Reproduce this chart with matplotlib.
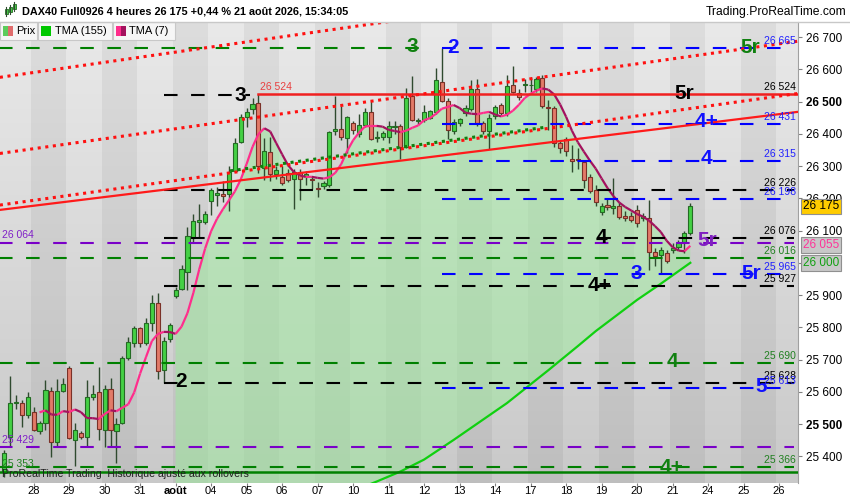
import numpy as np
import pandas as pd
import matplotlib
matplotlib.use("Agg")
import matplotlib.pyplot as plt
import matplotlib.transforms as mtransforms
from matplotlib.collections import LineCollection
from matplotlib.colors import LinearSegmentedColormap
from matplotlib.patches import Rectangle
from matplotlib.lines import Line2D

plt.rcParams['font.family'] = ['Liberation Sans', 'DejaVu Sans']

W, H = 850, 500

### 4h bars, 27 jul -> 21 aug (6 bars per day)
opens = [25352, 25460, 25565, 25565, 25527, 25538, 25479, 25503, 25603, 25444,
         25603, 25674, 25451, 25473, 25460, 25585, 25599, 25482, 25609, 25479,
         25503, 25705, 25751, 25798, 25751, 25813, 25875, 25668, 25764, 25898,
         25918, 25973, 26078, 26128, 26127, 26193, 26211, 26212, 26213, 26284,
         26374, 26452, 26477, 26494, 26295, 26342, 26274, 26267, 26277, 26259,
         26283, 26270, 26261, 26232, 26238, 26241, 26410, 26415, 26386, 26432,
         26399, 26427, 26468, 26387, 26389, 26389, 26421, 26424, 26360, 26517,
         26440, 26443, 26448, 26468, 26560, 26503, 26410, 26434, 26463, 26476,
         26538, 26432, 26410, 26455, 26489, 26463, 26551, 26527, 26552, 26550,
         26538, 26572, 26482, 26479, 26370, 26383, 26322, 26320, 26313, 26265,
         26226, 26158, 26179, 26170, 26176, 26145, 26145, 26164, 26140, 26138,
         26034, 26024, 26031, 26040, 26050, 26065, 26091]
highs = [25420, 25649, 25590, 25575, 25600, 25553, 25510, 25637, 25615, 25640,
         25643, 25680, 25504, 25480, 25637, 25620, 25678, 25621, 25643, 25520,
         25710, 25771, 25805, 25800, 25830, 25900, 25905, 25770, 25812, 25925,
         25993, 26112, 26150, 26182, 26160, 26232, 26236, 26255, 26300, 26387,
         26460, 26480, 26510, 26524, 26387, 26390, 26300, 26300, 26290, 26290,
         26290, 26285, 26270, 26250, 26255, 26410, 26517, 26486, 26455, 26440,
         26460, 26480, 26505, 26410, 26410, 26440, 26440, 26430, 26541, 26579,
         26448, 26490, 26475, 26603, 26665, 26510, 26445, 26450, 26490, 26567,
         26570, 26440, 26460, 26490, 26495, 26582, 26610, 26540, 26570, 26575,
         26575, 26582, 26505, 26485, 26378, 26390, 26365, 26355, 26320, 26275,
         26240, 26185, 26200, 26262, 26190, 26160, 26158, 26178, 26155, 26195,
         26045, 26048, 26040, 26060, 26070, 26100, 26184]
lows = [25335, 25430, 25548, 25492, 25520, 25479, 25470, 25482, 25398, 25430,
        25600, 25455, 25370, 25455, 25430, 25575, 25451, 25430, 25430, 25379,
        25500, 25700, 25740, 25740, 25745, 25790, 25640, 25628, 25755, 25890,
        25915, 25916, 26060, 26077, 26120, 26148, 26176, 26190, 26162, 26280,
        26370, 26420, 26460, 26278, 26257, 26255, 26260, 26240, 26250, 26167,
        26195, 26240, 26230, 26205, 26230, 26236, 26395, 26380, 26340, 26400,
        26390, 26420, 26380, 26375, 26380, 26370, 26400, 26322, 26355, 26440,
        26430, 26435, 26445, 26460, 26500, 26383, 26400, 26425, 26455, 26470,
        26425, 26400, 26352, 26445, 26455, 26455, 26525, 26505, 26530, 26530,
        26530, 26480, 26412, 26360, 26340, 26330, 26282, 26290, 26231, 26215,
        26175, 26148, 26165, 26150, 26135, 26130, 26125, 26110, 26130, 25978,
        25990, 25967, 26000, 26030, 26040, 26029, 26085]
closes = [25411, 25565, 25570, 25527, 25585, 25482, 25503, 25606, 25444, 25603,
          25624, 25457, 25482, 25460, 25585, 25593, 25485, 25609, 25482, 25500,
          25705, 25755, 25798, 25751, 25813, 25876, 25666, 25759, 25807, 25916,
          25980, 26083, 26130, 26132, 26151, 26226, 26215, 26208, 26283, 26372,
          26452, 26467, 26492, 26300, 26347, 26274, 26288, 26246, 26257, 26283,
          26259, 26274, 26258, 26230, 26247, 26405, 26414, 26389, 26451, 26412,
          26426, 26468, 26383, 26389, 26401, 26424, 26423, 26358, 26512, 26443,
          26442, 26468, 26470, 26567, 26503, 26412, 26437, 26446, 26481, 26538,
          26432, 26409, 26448, 26482, 26465, 26548, 26530, 26515, 26554, 26552,
          26569, 26486, 26481, 26372, 26355, 26347, 26316, 26318, 26257, 26223,
          26190, 26176, 26172, 26175, 26143, 26138, 26133, 26122, 26145, 26034,
          26021, 26040, 26006, 26047, 26060, 26091, 26175]

day_labels = ['28', '29', '30', '31', 'août', '04', '05', '06', '07', '10', '11',
              '12', '13', '14', '17', '18', '19', '20', '21', '24', '25', '26']

# TMA(155) (bar index, value)
tma155_bar = [29, 45, 63, 67, 71, 76, 85, 92, 97, 100, 107, 111, 116]
tma155_val = [25080, 25190, 25322, 25353, 25390, 25451, 25565, 25667, 25742,
              25788, 25885, 25935, 26000]

# drawn trend lines: (start bar, end bar) and prices
trend_bars = [-0.7, 134.2]
red_top = [26575, 26930]
red_mid = [26339, 26687]
red_low = [26179, 26525]
red_solid = [26164, 26468]
green_dot_bars = [38.2, 91.8]
green_dot = [26285, 26421]

# horizontal levels: value, colour, style, first bar, last bar
levels = [
    (26665, '#008000', 'dash', -1, 72), (26665, '#0000ff', 'dash', 74, 133.6),
    (26520, 'black', 'dash', 27, 41.5), (26524, '#f02020', 'solid', 43, 134.3),
    (26431, '#0000ff', 'dash', 74, 133.6), (26315, '#0000ff', 'dash', 74, 133.6),
    (26226, 'black', 'dash', 27, 133.6), (26198, '#0000ff', 'dash', 74, 133.6),
    (26076, 'black', 'dash', 27, 133.6), (26062, '#7a00c8', 'dash', -1, 133.6),
    (26016, '#008000', 'dash', -1, 133.6), (25965, '#0000ff', 'dash', 74, 133.6),
    (25927, 'black', 'dash', 27, 133.6), (25690, '#008000', 'dash', -1, 133.6),
    (25628, 'black', 'dash', 27, 133.6), (25613, '#0000ff', 'dash', 74, 133.6),
    (25429, '#7a00c8', 'dash', -1, 133.6), (25366, '#008000', 'dash', -1, 133.6),
    (25353, '#008000', 'solid', -1, 134.3),
]

# big wave labels: text, bar, price, colour
wave_labels = [
    ('3', 69.0, 26672, '#108010'), ('2', 75.9, 26669, '#1010ff'),
    ('5r', 126.1, 26669, '#108010'), ('3', 39.9, 26520, 'black'),
    ('5r', 114.9, 26526, 'black'), ('4+', 118.8, 26439, '#1010ff'),
    ('4', 118.8, 26324, '#1010ff'), ('4', 100.9, 26078, 'black'),
    ('5r', 118.8, 26069, '#8020c0'), ('3', 106.8, 25966, '#1010ff'),
    ('5r', 126.3, 25966, '#1010ff'), ('4+', 100.7, 25929, 'black'),
    ('4', 112.9, 25695, '#108010'), ('5', 128.0, 25618, '#1010ff'),
    ('4+', 112.9, 25366, '#108010'), ('2', 29.9, 25633, 'black'),
]

# small price tags on the right edge of the plot
right_tags = [(26665, '#2020ff'), (26524, 'black'), (26431, '#2020ff'),
              (26315, '#2020ff'), (26226, 'black'), (26198, '#2020ff'),
              (26076, 'black'), (26016, '#208020'), (25965, '#2020ff'),
              (25927, 'black'), (25690, '#208020'), (25628, 'black'),
              (25613, '#2020ff'), (25366, '#208020')]
left_tags = [(26064, '#8020c8'), (25429, '#8020c8'), (25353, '#208020')]

o = np.array(opens); hi = np.array(highs); lo = np.array(lows); c = np.array(closes)
idx = np.arange(len(c))

fig = plt.figure(figsize=(W / 100, H / 100), dpi=100)
fx = lambda px: px / W
fy = lambda py: 1 - py / H

ax = fig.add_axes([0, fy(483), fx(798), (483 - 22) / H])
xmin, xmax = -0.68, 134.2
ymin, ymax = 25317.4, 26746.5

# background: vertical gradient + alternate day stripes
bg = LinearSegmentedColormap.from_list('bg', ['#e9e9e9', '#c9c9c9'])
ax.imshow(np.linspace(0, 1, 256)[:, None], cmap=bg, aspect='auto',
          extent=(xmin, xmax, ymin, ymax), origin='upper', zorder=0)
for k in range(1, 24, 2):
    ax.axvspan(6 * k - 1.5, 6 * k + 4.5, color='black', alpha=0.05, lw=0, zorder=0.5)

# TMA(7) = triangular average, computed from the closes
s = pd.Series(closes, dtype=float)
tma7 = s.rolling(4).mean().rolling(4).mean().values

# green zone between TMA(7) and TMA(155)
up_x = idx[29:117]
poly_x = np.concatenate([up_x, tma155_bar[::-1]])
poly_y = np.concatenate([tma7[29:117], tma155_val[::-1]])
ax.fill(poly_x, poly_y, color='#9ee89e', alpha=0.55, lw=0, zorder=1)

# candles
up = c >= o
ax.vlines(idx, lo, hi, color='#2f4a2f', lw=1, zorder=2)
body_lo = np.minimum(o, c)
body_h = np.maximum(np.abs(c - o), 2.5)
ax.bar(idx[up], body_h[up], bottom=body_lo[up], width=0.7, color='#44d044',
       edgecolor='#246b24', linewidth=0.8, zorder=2.1)
ax.bar(idx[~up], body_h[~up], bottom=body_lo[~up], width=0.7, color='#e27a68',
       edgecolor='#7a3128', linewidth=0.8, zorder=2.1)

# TMA lines
ok = ~np.isnan(tma7)
pts = np.column_stack([idx[ok], tma7[ok]])
segs = np.stack([pts[:-1], pts[1:]], axis=1)
cols = ['#ff2d8c' if b[1] >= a[1] else '#a3125e' for a, b in zip(pts[:-1], pts[1:])]
ax.add_collection(LineCollection(segs, colors=cols, linewidths=1.6, zorder=2.5))
ax.plot(tma155_bar, tma155_val, color='#10d010', lw=1.6, zorder=2.5)

# horizontal levels
for val, col, sty, b0, b1 in levels:
    ls = (0, (6.5, 6.5)) if sty == 'dash' else '-'
    lw = 1.5 if sty == 'dash' else 1.8
    ax.plot([b0, b1], [val, val], color=col, lw=lw, linestyle=ls, zorder=3)

# trend lines
dots = (0, (1, 1.5))
for yy in (red_top, red_mid, red_low):
    ax.plot(trend_bars, yy, color='#ff1010', lw=2.2, linestyle=dots, zorder=3.5)
ax.plot(trend_bars, red_solid, color='#ff1a1a', lw=1.6, zorder=3.5)
ax.plot(green_dot_bars, green_dot, color='#108010', lw=2.2, linestyle=dots, zorder=3.5)

for txt, bx, val, col in wave_labels:
    ax.text(bx, val, txt, color=col, fontsize=15, fontweight='bold',
            ha='center', va='center', zorder=6)

for val, col in right_tags:
    ax.annotate(f"{val:,}".replace(',', ' '), (133.9, val), xytext=(0, 1.5),
                textcoords='offset points', ha='right', va='bottom',
                fontsize=7.5, color=col, zorder=6)
for val, col in left_tags:
    ax.annotate(f"{val:,}".replace(',', ' '), (-0.4, val), xytext=(0, 1.5),
                textcoords='offset points', ha='left', va='bottom',
                fontsize=7.5, color=col, zorder=6)
ax.annotate('26 524', (43.3, 26524), xytext=(0, 1.5), textcoords='offset points',
            ha='left', va='bottom', fontsize=7.5, color='#e84040', zorder=6)

ax.text(0.003, 0.013, 'ProRealTime Trading  Historique ajusté aux rollovers',
        transform=ax.transAxes, fontsize=7.6, color='#202020', zorder=6)

ax.set_xlim(xmin, xmax)
ax.set_ylim(ymin, ymax)

# axes
for side in ('top', 'left', 'bottom'):
    ax.spines[side].set_visible(False)
ax.spines['right'].set_color('#a0a0a0')
ax.yaxis.tick_right()
yt = np.arange(25400, 26701, 100)
ax.set_yticks(yt)
ax.set_yticklabels([f"{v:,}".replace(',', ' ') for v in yt])
for t, v in zip(ax.get_yticklabels(), yt):
    if v in (25500, 26500):
        t.set_fontweight('bold')
ax.tick_params(axis='y', length=3, color='#808080', pad=3, labelsize=8.5)
ax.set_xticks(list(range(5, 5 + 6 * len(day_labels), 6)))
ax.set_xticklabels(day_labels)
for t in ax.get_xticklabels():
    if t.get_text() == 'août':
        t.set_fontweight('bold')
ax.tick_params(axis='x', length=2, color='#808080', pad=0.5, labelsize=8)

# value tags on the price scale
tr = mtransforms.blended_transform_factory(ax.transAxes, ax.transData)
for val, txt, fc, tc in [(26175, '26 175', '#ffcc00', 'black'),
                         (26055, '26 055', '#c8c8c8', '#ff3399'),
                         (26000, '26 000', '#c8c8c8', '#10a010')]:
    ax.text(1.0 + 5 / 798, val, txt, transform=tr, fontsize=8.5, color=tc,
            va='center', ha='left', clip_on=False, zorder=10,
            bbox=dict(boxstyle='square,pad=0.15', fc=fc, ec='#909090', lw=0.8))

# header
fig.text(fx(22), fy(12), 'DAX40 Full0926 4 heures 26 175 +0,44 % 21 août 2026, 15:34:05',
         fontsize=7.8, fontweight='bold', va='center', ha='left')
fig.text(fx(846), fy(12), 'Trading.ProRealTime.com', fontsize=8.7, va='center', ha='right')
for x0, y0, y1 in [(6, 9, 14), (10, 7, 12), (14, 4, 9)]:
    fig.add_artist(Line2D([fx(x0), fx(x0)], [fy(y1 + 2), fy(y0 - 2)], color='#2f4a2f',
                          lw=0.8, transform=fig.transFigure))
    fig.add_artist(Rectangle((fx(x0 - 1.5), fy(y1)), 3 / W, (y1 - y0) / H, fc='#44d044',
                             ec='#246b24', lw=0.6, transform=fig.transFigure))
fig.add_artist(Line2D([0, 1], [fy(21.5), fy(21.5)], color='#c8c8c8', lw=1,
                      transform=fig.transFigure))

# legend strip
for x0, x1, txt, tx in [(0, 37, 'Prix', 16), (38, 112, 'TMA (155)', 55), (113, 175, 'TMA (7)', 129)]:
    fig.add_artist(Rectangle((fx(x0), fy(40)), (x1 - x0) / W, 18 / H, fc='#f6f6f6',
                             ec='#c8c8c8', lw=0.8, transform=fig.transFigure))
    fig.text(fx(tx), fy(31), txt, fontsize=8, va='center', ha='left')
for x0, w, col in [(3, 5, '#5ccc5c'), (8, 5, '#e06c6c'), (41, 10, '#00c800'),
                   (116, 5, '#ff2d8c'), (121, 5, '#a3125e')]:
    fig.add_artist(Rectangle((fx(x0), fy(36)), w / W, 10 / H, fc=col, lw=0,
                             transform=fig.transFigure))

fig.savefig('out.png', dpi=100)
